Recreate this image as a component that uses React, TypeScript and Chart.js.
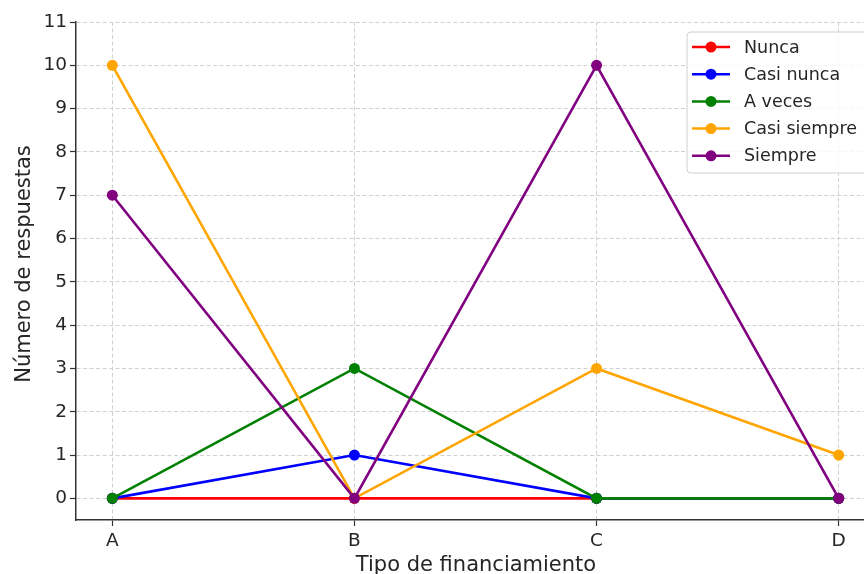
import React, { useEffect, useRef } from "react";
import { Chart, registerables } from "chart.js";

Chart.register(...registerables);

const categories = ["A", "B", "C", "D"];
const seriesNames = ["Nunca", "Casi nunca", "A veces", "Casi siempre", "Siempre"];
const nunca = [0, 0, 0, 0];
const casiNunca = [0, 1, 0, 0];
const aVeces = [0, 3, 0, 0];
const casiSiempre = [10, 0, 3, 1];
const siempre = [7, 0, 10, 0];
const yTicks = [0, 1, 2, 3, 4, 5, 6, 7, 8, 9, 10, 11];
const colors = ["#ff0000", "#0000ff", "#008000", "#ffa500", "#800080"];
const xTitle = "Tipo de financiamiento";
const yTitle = "Número de respuestas";

const FONT = "'DejaVu Sans', sans-serif";
const TEXT = "#262626";

export default function App() {
  const ref = useRef<HTMLCanvasElement | null>(null);

  useEffect(() => {
    const canvas = ref.current;
    if (!canvas) return;
    const all = [nunca, casiNunca, aVeces, casiSiempre, siempre];

    const overlay = {
      id: "overlay",
      afterDraw(chart: any) {
        const ctx = chart.ctx;
        const area = chart.chartArea;
        ctx.save();
        // axis titles
        ctx.fillStyle = TEXT;
        ctx.font = `21px ${FONT}`;
        ctx.textAlign = "center";
        ctx.textBaseline = "alphabetic";
        ctx.fillText(xTitle, 476, 571);
        ctx.save();
        ctx.translate(30, 264);
        ctx.rotate(-Math.PI / 2);
        ctx.fillText(yTitle, 0, 0);
        ctx.restore();

        // legend
        const bx = 687, by = 32, bw = 200, bh = 141, r = 4;
        ctx.beginPath();
        ctx.moveTo(bx + r, by);
        ctx.lineTo(bx + bw - r, by);
        ctx.arcTo(bx + bw, by, bx + bw, by + r, r);
        ctx.lineTo(bx + bw, by + bh - r);
        ctx.arcTo(bx + bw, by + bh, bx + bw - r, by + bh, r);
        ctx.lineTo(bx + r, by + bh);
        ctx.arcTo(bx, by + bh, bx, by + bh - r, r);
        ctx.lineTo(bx, by + r);
        ctx.arcTo(bx, by, bx + r, by, r);
        ctx.closePath();
        ctx.fillStyle = "rgba(255,255,255,0.8)";
        ctx.fill();
        ctx.strokeStyle = "#d0d0d0";
        ctx.lineWidth = 1;
        ctx.stroke();

        ctx.font = `17.5px ${FONT}`;
        ctx.textAlign = "left";
        ctx.textBaseline = "middle";
        seriesNames.forEach((name, i) => {
          const y = 47 + i * 27.2;
          ctx.strokeStyle = colors[i];
          ctx.lineWidth = 2.5;
          ctx.beginPath();
          ctx.moveTo(692, y);
          ctx.lineTo(730, y);
          ctx.stroke();
          ctx.fillStyle = colors[i];
          ctx.beginPath();
          ctx.arc(711, y, 5.5, 0, Math.PI * 2);
          ctx.fill();
          ctx.fillStyle = TEXT;
          ctx.fillText(name, 744, y + 1);
        });
        ctx.restore();
      },
    };

    const gridOpts = {
      color: "#d0d0d0",
      tickBorderDash: [],
      tickColor: "#333333",
      tickLength: 6,
      tickWidth: 1.2,
      lineWidth: 1,
    };

    const chart = new Chart(canvas, {
      type: "line",
      data: {
        datasets: seriesNames.map((name, i) => ({
          label: name,
          data: all[i].map((v, j) => ({ x: j, y: v })),
          borderColor: colors[i],
          backgroundColor: colors[i],
          borderWidth: 2.6,
          pointRadius: 5.5,
          pointHoverRadius: 5.5,
          pointBorderWidth: 0,
          tension: 0,
          fill: false,
          order: seriesNames.length - i,
        })),
      },
      options: {
        responsive: false,
        animation: false,
        layout: { padding: { left: 0, right: 15, top: 22, bottom: 0 } },
        plugins: { legend: { display: false }, tooltip: { enabled: false } },
        scales: {
          x: {
            type: "linear",
            min: -0.15,
            max: 3.15,
            afterBuildTicks: (scale: any) => {
              scale.ticks = categories.map((_, i) => ({ value: i }));
            },
            afterFit: (scale: any) => {
              scale.height = 54;
            },
            ticks: {
              autoSkip: false,
              maxRotation: 0,
              padding: 4,
              color: TEXT,
              font: { family: FONT, size: 18.5 },
              callback: (v: any) => categories[Math.round(Number(v))] ?? "",
            },
            grid: gridOpts as any,
            border: { display: true, color: "#333333", width: 1.5, dash: [4, 2.5] },
          },
          y: {
            type: "linear",
            min: -0.5,
            max: 11,
            afterBuildTicks: (scale: any) => {
              scale.ticks = yTicks.map((v) => ({ value: v }));
            },
            afterFit: (scale: any) => {
              scale.width = 76;
            },
            ticks: {
              padding: 3,
              color: TEXT,
              font: { family: FONT, size: 18.5 },
              callback: (v: any) => String(v),
            },
            grid: gridOpts as any,
            border: { display: true, color: "#333333", width: 1.5, dash: [4, 2.5] },
          },
        },
      } as any,
      plugins: [overlay],
    });
    return () => chart.destroy();
  }, []);

  return (
    <div
      style={{
        position: "fixed",
        left: 0,
        top: 0,
        width: 864,
        height: 574,
        overflow: "hidden",
        background: "#ffffff",
      }}
    >
      <canvas ref={ref} width={890} height={574} style={{ display: "block" }} />
    </div>
  );
}
